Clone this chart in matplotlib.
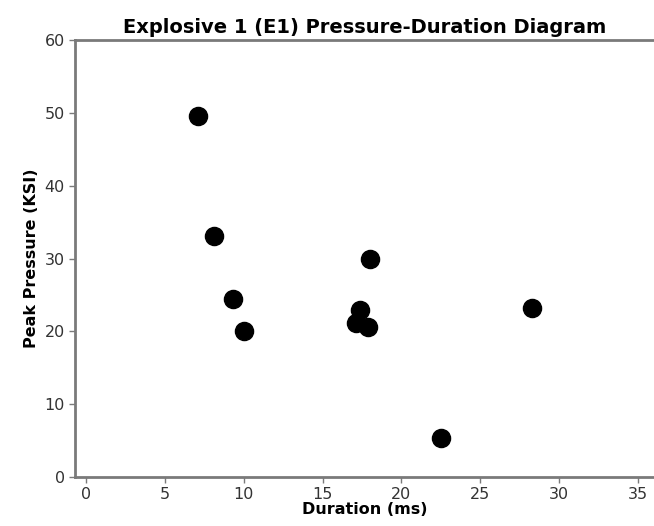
import matplotlib
matplotlib.use("Agg")
import matplotlib.pyplot as plt

duration_ms = [7.1, 8.1, 9.3, 10.0, 18.0, 17.4, 17.1, 17.9, 28.3, 22.5]
peak_pressure_ksi = [49.6, 33.1, 24.5, 20.1, 30.0, 23.0, 21.1, 20.6, 23.2, 5.3]
x_ticks = [0, 5, 10, 15, 20, 25, 30, 35]
y_ticks = [0, 10, 20, 30, 40, 50, 60]

fig = plt.figure(figsize=(6.54, 5.26), dpi=100)
ax = fig.add_axes([0.115, 0.093, 0.885, 0.831])
ax.scatter(duration_ms, peak_pressure_ksi, s=170, color="black", zorder=3)
ax.set_xlim(-0.67, 36.0)
ax.set_ylim(0, 60)
ax.set_xticks(x_ticks)
ax.set_yticks(y_ticks)
ax.spines["right"].set_visible(False)
for s in ["left", "bottom", "top"]:
    ax.spines[s].set_color("#7a7a7a")
    ax.spines[s].set_linewidth(2)
ax.tick_params(colors="#7a7a7a", labelcolor="#333333", labelsize=11.5, length=4, width=1)
ax.set_title("Explosive 1 (E1) Pressure-Duration Diagram", fontsize=14, fontweight="bold", pad=5)
ax.set_xlabel("Duration (ms)", fontsize=11.5, fontweight="bold", labelpad=0)
ax.set_ylabel("Peak Pressure (KSI)", fontsize=11.5, fontweight="bold", labelpad=4)
fig.savefig("out.png", dpi=100)
